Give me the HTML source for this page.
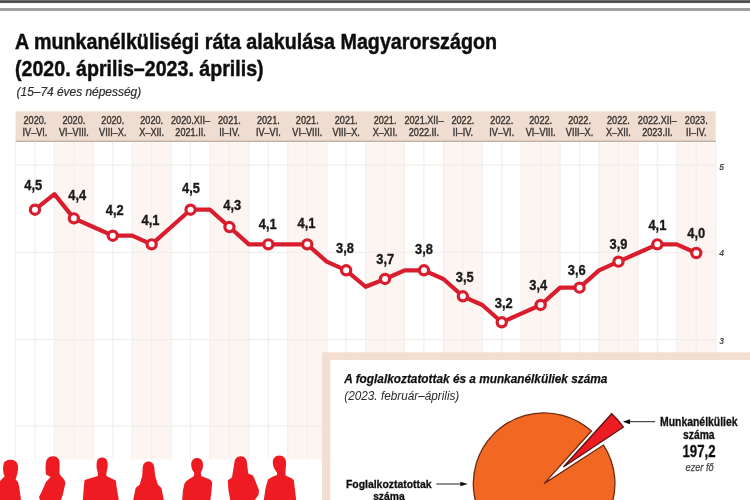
<!DOCTYPE html>
<html lang="hu">
<head>
<meta charset="utf-8">
<title>A munkanélküliségi ráta alakulása Magyarországon</title>
<style>
html,body{margin:0;padding:0;background:#fff;}
body{width:750px;height:500px;overflow:hidden;position:relative;font-family:"Liberation Sans",sans-serif;}
svg{display:block;position:absolute;left:0;top:0;}
text{font-family:"Liberation Sans",sans-serif;}
.b{font-weight:bold;}
.i{font-style:italic;}
.hd{font-size:11px;fill:#3a3432;stroke:#3a3432;stroke-width:0.4px;text-anchor:middle;}
.val{font-size:15px;font-weight:bold;fill:#1a1a1a;stroke:#1a1a1a;stroke-width:0.35px;text-anchor:middle;}
.ax{font-size:9.6px;font-style:italic;font-weight:bold;fill:#4a4a4a;}
</style>
</head>
<body>
<svg width="750" height="500" viewBox="0 0 750 500">
<defs>
<filter id="soft" x="-5%" y="-5%" width="110%" height="110%"><feGaussianBlur stdDeviation="0.45"/></filter>
</defs>
<rect x="0" y="0" width="750" height="500" fill="#ffffff"/>

<rect x="0" y="0" width="750" height="1" fill="#6e6e6e"/>
<rect x="0" y="1" width="750" height="1" fill="#464646"/>
<rect x="0" y="2" width="750" height="1" fill="#5e5e5e"/>
<rect x="0" y="3" width="750" height="1" fill="#f2f2f2"/>
<rect x="0" y="8" width="750" height="3" fill="#a0a0a0"/>
<g filter="url(#soft)">
<text class="b" x="15" y="49.4" font-size="22.8" fill="#111" stroke="#111" stroke-width="0.5" textLength="482" lengthAdjust="spacingAndGlyphs">A munkanélküliségi ráta alakulása Magyarországon</text>
<text class="b" x="15" y="76.3" font-size="22.8" fill="#111" stroke="#111" stroke-width="0.5" textLength="248.6" lengthAdjust="spacingAndGlyphs">(2020. április–2023. április)</text>
<text class="i" x="16.6" y="96.3" font-size="12" fill="#2e2e2e" stroke="#2e2e2e" stroke-width="0.2" textLength="124.5" lengthAdjust="spacingAndGlyphs">(15–74 éves népesség)</text>
</g>
<rect x="54.40" y="142" width="38.90" height="317.40" fill="#fcf5f1"/>
<rect x="132.20" y="142" width="38.90" height="317.40" fill="#fcf5f1"/>
<rect x="210.00" y="142" width="38.90" height="317.40" fill="#fcf5f1"/>
<rect x="287.80" y="142" width="38.90" height="317.40" fill="#fcf5f1"/>
<rect x="365.60" y="142" width="38.90" height="317.40" fill="#fcf5f1"/>
<rect x="443.40" y="142" width="38.90" height="317.40" fill="#fcf5f1"/>
<rect x="521.20" y="142" width="38.90" height="317.40" fill="#fcf5f1"/>
<rect x="599.00" y="142" width="38.90" height="317.40" fill="#fcf5f1"/>
<rect x="676.80" y="142" width="38.90" height="317.40" fill="#fcf5f1"/>
<rect x="14.90" y="142" width="1.2" height="317.40" fill="#f2efee"/>
<rect x="34.35" y="142" width="1.2" height="317.40" fill="#f2efee"/>
<rect x="53.80" y="142" width="1.2" height="317.40" fill="#f2efee"/>
<rect x="73.25" y="142" width="1.2" height="317.40" fill="#f2efee"/>
<rect x="92.70" y="142" width="1.2" height="317.40" fill="#f2efee"/>
<rect x="112.15" y="142" width="1.2" height="317.40" fill="#f2efee"/>
<rect x="131.60" y="142" width="1.2" height="317.40" fill="#f2efee"/>
<rect x="151.05" y="142" width="1.2" height="317.40" fill="#f2efee"/>
<rect x="170.50" y="142" width="1.2" height="317.40" fill="#f2efee"/>
<rect x="189.95" y="142" width="1.2" height="317.40" fill="#f2efee"/>
<rect x="209.40" y="142" width="1.2" height="317.40" fill="#f2efee"/>
<rect x="228.85" y="142" width="1.2" height="317.40" fill="#f2efee"/>
<rect x="248.30" y="142" width="1.2" height="317.40" fill="#f2efee"/>
<rect x="267.75" y="142" width="1.2" height="317.40" fill="#f2efee"/>
<rect x="287.20" y="142" width="1.2" height="317.40" fill="#f2efee"/>
<rect x="306.65" y="142" width="1.2" height="317.40" fill="#f2efee"/>
<rect x="326.10" y="142" width="1.2" height="317.40" fill="#f2efee"/>
<rect x="345.55" y="142" width="1.2" height="317.40" fill="#f2efee"/>
<rect x="365.00" y="142" width="1.2" height="317.40" fill="#f2efee"/>
<rect x="384.45" y="142" width="1.2" height="317.40" fill="#f2efee"/>
<rect x="403.90" y="142" width="1.2" height="317.40" fill="#f2efee"/>
<rect x="423.35" y="142" width="1.2" height="317.40" fill="#f2efee"/>
<rect x="442.80" y="142" width="1.2" height="317.40" fill="#f2efee"/>
<rect x="462.25" y="142" width="1.2" height="317.40" fill="#f2efee"/>
<rect x="481.70" y="142" width="1.2" height="317.40" fill="#f2efee"/>
<rect x="501.15" y="142" width="1.2" height="317.40" fill="#f2efee"/>
<rect x="520.60" y="142" width="1.2" height="317.40" fill="#f2efee"/>
<rect x="540.05" y="142" width="1.2" height="317.40" fill="#f2efee"/>
<rect x="559.50" y="142" width="1.2" height="317.40" fill="#f2efee"/>
<rect x="578.95" y="142" width="1.2" height="317.40" fill="#f2efee"/>
<rect x="598.40" y="142" width="1.2" height="317.40" fill="#f2efee"/>
<rect x="617.85" y="142" width="1.2" height="317.40" fill="#f2efee"/>
<rect x="637.30" y="142" width="1.2" height="317.40" fill="#f2efee"/>
<rect x="656.75" y="142" width="1.2" height="317.40" fill="#f2efee"/>
<rect x="676.20" y="142" width="1.2" height="317.40" fill="#f2efee"/>
<rect x="695.65" y="142" width="1.2" height="317.40" fill="#f2efee"/>
<rect x="715.10" y="142" width="1.2" height="317.40" fill="#f2efee"/>
<rect x="15.5" y="164.40" width="700.20" height="1.2" fill="#f1eeed"/>
<rect x="15.5" y="251.80" width="700.20" height="1.2" fill="#f1eeed"/>
<rect x="15.5" y="339.00" width="700.20" height="1.2" fill="#f1eeed"/>
<rect x="15.5" y="425.40" width="700.20" height="1.2" fill="#f1eeed"/>
<rect x="15.5" y="111.3" width="700.20" height="30.2" fill="#efddd1"/>
<rect x="15.5" y="140.6" width="700.20" height="1.4" fill="#bfb1a8"/>
<g filter="url(#soft)">
<g transform="translate(34.95,0) scale(0.83,1)"><text class="hd" x="0" y="123.8">2020.</text><text class="hd" x="0" y="136.2">IV–VI.</text></g>
<g transform="translate(73.85,0) scale(0.83,1)"><text class="hd" x="0" y="123.8">2020.</text><text class="hd" x="0" y="136.2">VI–VIII.</text></g>
<g transform="translate(112.75,0) scale(0.83,1)"><text class="hd" x="0" y="123.8">2020.</text><text class="hd" x="0" y="136.2">VIII–X.</text></g>
<g transform="translate(151.65,0) scale(0.83,1)"><text class="hd" x="0" y="123.8">2020.</text><text class="hd" x="0" y="136.2">X–XII.</text></g>
<g transform="translate(190.55,0) scale(0.83,1)"><text class="hd" x="0" y="123.8">2020.XII–</text><text class="hd" x="0" y="136.2">2021.II.</text></g>
<g transform="translate(229.45,0) scale(0.83,1)"><text class="hd" x="0" y="123.8">2021.</text><text class="hd" x="0" y="136.2">II–IV.</text></g>
<g transform="translate(268.35,0) scale(0.83,1)"><text class="hd" x="0" y="123.8">2021.</text><text class="hd" x="0" y="136.2">IV–VI.</text></g>
<g transform="translate(307.25,0) scale(0.83,1)"><text class="hd" x="0" y="123.8">2021.</text><text class="hd" x="0" y="136.2">VI–VIII.</text></g>
<g transform="translate(346.15,0) scale(0.83,1)"><text class="hd" x="0" y="123.8">2021.</text><text class="hd" x="0" y="136.2">VIII–X.</text></g>
<g transform="translate(385.05,0) scale(0.83,1)"><text class="hd" x="0" y="123.8">2021.</text><text class="hd" x="0" y="136.2">X–XII.</text></g>
<g transform="translate(423.95,0) scale(0.83,1)"><text class="hd" x="0" y="123.8">2021.XII–</text><text class="hd" x="0" y="136.2">2022.II.</text></g>
<g transform="translate(462.85,0) scale(0.83,1)"><text class="hd" x="0" y="123.8">2022.</text><text class="hd" x="0" y="136.2">II–IV.</text></g>
<g transform="translate(501.75,0) scale(0.83,1)"><text class="hd" x="0" y="123.8">2022.</text><text class="hd" x="0" y="136.2">IV–VI.</text></g>
<g transform="translate(540.65,0) scale(0.83,1)"><text class="hd" x="0" y="123.8">2022.</text><text class="hd" x="0" y="136.2">VI–VIII.</text></g>
<g transform="translate(579.55,0) scale(0.83,1)"><text class="hd" x="0" y="123.8">2022.</text><text class="hd" x="0" y="136.2">VIII–X.</text></g>
<g transform="translate(618.45,0) scale(0.83,1)"><text class="hd" x="0" y="123.8">2022.</text><text class="hd" x="0" y="136.2">X–XII.</text></g>
<g transform="translate(657.35,0) scale(0.83,1)"><text class="hd" x="0" y="123.8">2022.XII–</text><text class="hd" x="0" y="136.2">2023.II.</text></g>
<g transform="translate(696.25,0) scale(0.83,1)"><text class="hd" x="0" y="123.8">2023.</text><text class="hd" x="0" y="136.2">II–IV.</text></g>
</g>
<g filter="url(#soft)">
<text class="ax" transform="translate(719.2,169.8) scale(0.9,1)" x="0" y="0">5</text>
<text class="ax" transform="translate(719.2,256.4) scale(0.9,1)" x="0" y="0">4</text>
<text class="ax" transform="translate(719.2,344.0) scale(0.9,1)" x="0" y="0">3</text>
</g>
<g filter="url(#soft)">
<polyline fill="none" stroke="#d91f2d" stroke-width="4.2" stroke-linejoin="round" stroke-linecap="round" points="34.95,209.70 54.40,194.11 73.85,218.36 93.30,227.02 112.75,235.68 132.20,235.68 151.65,244.34 171.10,227.02 190.55,209.70 210.00,209.70 229.45,227.02 248.90,244.34 268.35,244.34 287.80,244.34 307.25,244.34 326.70,261.66 346.15,270.32 365.60,286.77 385.05,278.98 404.50,270.32 423.95,270.32 443.40,278.98 462.85,296.30 482.30,304.96 501.75,322.28 521.20,313.62 540.65,304.96 560.10,287.64 579.55,287.64 599.00,270.32 618.45,261.66 637.90,253.00 657.35,244.34 676.80,244.34 696.25,253.00"/>
<circle cx="34.95" cy="209.70" r="4.6" fill="#fff" stroke="#d91f2d" stroke-width="3.2"/>
<circle cx="73.85" cy="218.36" r="4.6" fill="#fff" stroke="#d91f2d" stroke-width="3.2"/>
<circle cx="112.75" cy="235.68" r="4.6" fill="#fff" stroke="#d91f2d" stroke-width="3.2"/>
<circle cx="151.65" cy="244.34" r="4.6" fill="#fff" stroke="#d91f2d" stroke-width="3.2"/>
<circle cx="190.55" cy="209.70" r="4.6" fill="#fff" stroke="#d91f2d" stroke-width="3.2"/>
<circle cx="229.45" cy="227.02" r="4.6" fill="#fff" stroke="#d91f2d" stroke-width="3.2"/>
<circle cx="268.35" cy="244.34" r="4.6" fill="#fff" stroke="#d91f2d" stroke-width="3.2"/>
<circle cx="307.25" cy="244.34" r="4.6" fill="#fff" stroke="#d91f2d" stroke-width="3.2"/>
<circle cx="346.15" cy="270.32" r="4.6" fill="#fff" stroke="#d91f2d" stroke-width="3.2"/>
<circle cx="385.05" cy="278.98" r="4.6" fill="#fff" stroke="#d91f2d" stroke-width="3.2"/>
<circle cx="423.95" cy="270.32" r="4.6" fill="#fff" stroke="#d91f2d" stroke-width="3.2"/>
<circle cx="462.85" cy="296.30" r="4.6" fill="#fff" stroke="#d91f2d" stroke-width="3.2"/>
<circle cx="501.75" cy="322.28" r="4.6" fill="#fff" stroke="#d91f2d" stroke-width="3.2"/>
<circle cx="540.65" cy="304.96" r="4.6" fill="#fff" stroke="#d91f2d" stroke-width="3.2"/>
<circle cx="579.55" cy="287.64" r="4.6" fill="#fff" stroke="#d91f2d" stroke-width="3.2"/>
<circle cx="618.45" cy="261.66" r="4.6" fill="#fff" stroke="#d91f2d" stroke-width="3.2"/>
<circle cx="657.35" cy="244.34" r="4.6" fill="#fff" stroke="#d91f2d" stroke-width="3.2"/>
<circle cx="696.25" cy="253.00" r="4.6" fill="#fff" stroke="#d91f2d" stroke-width="3.2"/>
</g>
<g filter="url(#soft)">
<text class="val" transform="translate(33.2,190.4) scale(0.86,1)" x="0" y="0">4,5</text>
<text class="val" transform="translate(77.2,199.8) scale(0.86,1)" x="0" y="0">4,4</text>
<text class="val" transform="translate(114.7,215.4) scale(0.86,1)" x="0" y="0">4,2</text>
<text class="val" transform="translate(150.5,225.4) scale(0.86,1)" x="0" y="0">4,1</text>
<text class="val" transform="translate(191,193.0) scale(0.86,1)" x="0" y="0">4,5</text>
<text class="val" transform="translate(232.2,210.4) scale(0.86,1)" x="0" y="0">4,3</text>
<text class="val" transform="translate(267.7,229.4) scale(0.86,1)" x="0" y="0">4,1</text>
<text class="val" transform="translate(306.5,228.4) scale(0.86,1)" x="0" y="0">4,1</text>
<text class="val" transform="translate(345,253.0) scale(0.86,1)" x="0" y="0">3,8</text>
<text class="val" transform="translate(385.3,264.4) scale(0.86,1)" x="0" y="0">3,7</text>
<text class="val" transform="translate(424,254.3) scale(0.86,1)" x="0" y="0">3,8</text>
<text class="val" transform="translate(464.8,281.9) scale(0.86,1)" x="0" y="0">3,5</text>
<text class="val" transform="translate(503.7,307.9) scale(0.86,1)" x="0" y="0">3,2</text>
<text class="val" transform="translate(538.3,289.9) scale(0.86,1)" x="0" y="0">3,4</text>
<text class="val" transform="translate(576.8,275.4) scale(0.86,1)" x="0" y="0">3,6</text>
<text class="val" transform="translate(618.5,249.4) scale(0.86,1)" x="0" y="0">3,9</text>
<text class="val" transform="translate(657.4,230.4) scale(0.86,1)" x="0" y="0">4,1</text>
<text class="val" transform="translate(696.2,238.4) scale(0.86,1)" x="0" y="0">4,0</text>
</g>
<g fill="#ee1a23" filter="url(#soft)">
<path d="M0,481 L3,478 L4.6,476.6 C3,473 2.6,468 3.6,464 C4.6,460.6 8,459.6 11,459.8 C15,460 17.6,462.4 18,466 C18.3,469 17.8,473 16.4,476.8 L15.6,479.6 L18,482 L19.2,487 L21,500 L0,500 Z"/>
<path d="M46.2,474.8 C45.4,470 45.2,464 46.4,460.4 C47.6,457 51,456 53.4,456.2 C57,456.4 59.2,458.6 59.5,462 C59.8,466 59.6,469 59.4,472.4 L60,474.8 L64.2,479.6 L65.4,483 L63,494 L61,500 L40,500 L39,497 L42,491 L46,482 L50.5,477 L48,475.6 Z"/>
<path d="M97.8,472.4 C96.4,469 96.2,464 97,461 C98,458 100.4,457.3 102.2,457.4 C105,457.5 107,459 107.5,462 C108,465 107.6,469 106.4,472.4 L106.4,476 L115.8,480.5 L117,490 L118.8,500 L82.8,500 L84,485 L84.6,480 L97.8,476 Z"/>
<path d="M148.5,461.6 C152,461.6 154,464 154.3,468 L155.2,476 L157.8,484.4 L161.4,488 L163.8,500 L133.2,500 L135.6,488 L139.8,484.4 L142.2,476 L142.7,468 C143,464 145,461.6 148.5,461.6 Z"/>
<path d="M197.1,458 C200.6,458 203,460.6 203,464.4 C203,468 202,470.6 200.8,472.4 L201.2,476 L210,479.6 L212.2,482 L211.6,490 L210.4,500 L182.2,500 L183,490 L184.6,483.2 L187,480.4 L194,476 L194.2,472.4 C192.6,470.6 191.2,468 191.2,464.4 C191.2,460.6 193.6,458 197.1,458 Z"/>
<path d="M240.7,456.2 C244.6,456.2 246.8,459 247,463 L248.2,473.6 L253,475.4 L255,480 L259,490.4 L258.4,495 L254.8,500 L230.2,500 L228.4,490 L227.8,480.2 L232,477.6 L232.6,473.6 L234.4,463 C234.6,459 236.8,456.2 240.7,456.2 Z"/>
<path d="M279.4,455.6 C283.4,455.6 286,458.4 286,462.6 C286,466.6 285.6,470 285.4,472.4 L285.6,475.6 L292,478.6 L293.8,480.2 L295,490 L296.2,500 L263.8,500 L265.6,488 L268,479.6 L272,477 L277,475 L277,472.4 C274.6,470 272.8,466.6 272.8,462.6 C272.8,458.4 275.4,455.6 279.4,455.6 Z"/>

</g>
<rect x="322" y="352.3" width="428" height="148" fill="#f3ded2"/>
<rect x="330.3" y="360" width="421" height="141" fill="#ffffff"/>
<g filter="url(#soft)">
<text x="344.3" y="382.9" font-size="13" font-weight="bold" font-style="italic" fill="#111" stroke="#111" stroke-width="0.25" textLength="263" lengthAdjust="spacingAndGlyphs">A foglalkoztatottak és a munkanélküliek száma</text>
<text class="i" x="344.3" y="399.6" font-size="12" fill="#2a2a2a" textLength="115" lengthAdjust="spacingAndGlyphs">(2023. február–április)</text>
</g>
<g filter="url(#soft)">
<path d="M544.10,483.60 L591.47,430.99 A70.8,70.8 0 1 0 603.48,445.04 Z" fill="#f26724" stroke="#6b2c10" stroke-width="1.3" stroke-linejoin="miter"/>
<path d="M563.36,467.04 L611.72,413.70 A72,72 0 0 1 623.33,427.19 Z" fill="#ec1c24" stroke="#5a1010" stroke-width="1.3" stroke-linejoin="miter"/>
<path d="M629.5,421.7 L655,421.7" stroke="#222" stroke-width="1" fill="none"/>
<path d="M622.8,421.7 L630,419.2 L630,424.2 Z" fill="#111"/>
<path d="M436.4,484 L460.5,484" stroke="#222" stroke-width="1" fill="none"/>
<path d="M467.8,484 L460.3,481.7 L460.3,486.3 Z" fill="#111"/>
<text class="b" x="698.8" y="426" font-size="12" fill="#111" stroke="#111" stroke-width="0.3" text-anchor="middle" textLength="77.6" lengthAdjust="spacingAndGlyphs">Munkanélküliek</text>
<text class="b" x="698.8" y="438.6" font-size="12" fill="#111" stroke="#111" stroke-width="0.3" text-anchor="middle" textLength="31.5" lengthAdjust="spacingAndGlyphs">száma</text>
<text class="b" x="699" y="456.5" font-size="16.5" fill="#111" stroke="#111" stroke-width="0.3" text-anchor="middle" textLength="33.2" lengthAdjust="spacingAndGlyphs">197,2</text>
<text class="i" x="699.6" y="470.6" font-size="10.5" fill="#444" stroke="#444" stroke-width="0.25" text-anchor="middle" textLength="28" lengthAdjust="spacingAndGlyphs">ezer fő</text>
<text class="b" x="388.8" y="487.7" font-size="11.6" fill="#111" stroke="#111" stroke-width="0.3" text-anchor="middle" textLength="85.7" lengthAdjust="spacingAndGlyphs">Foglalkoztatottak</text>
<text class="b" x="388.9" y="500.3" font-size="11.6" fill="#111" stroke="#111" stroke-width="0.3" text-anchor="middle" textLength="31.5" lengthAdjust="spacingAndGlyphs">száma</text>
</g>
</svg>
</body>
</html>
